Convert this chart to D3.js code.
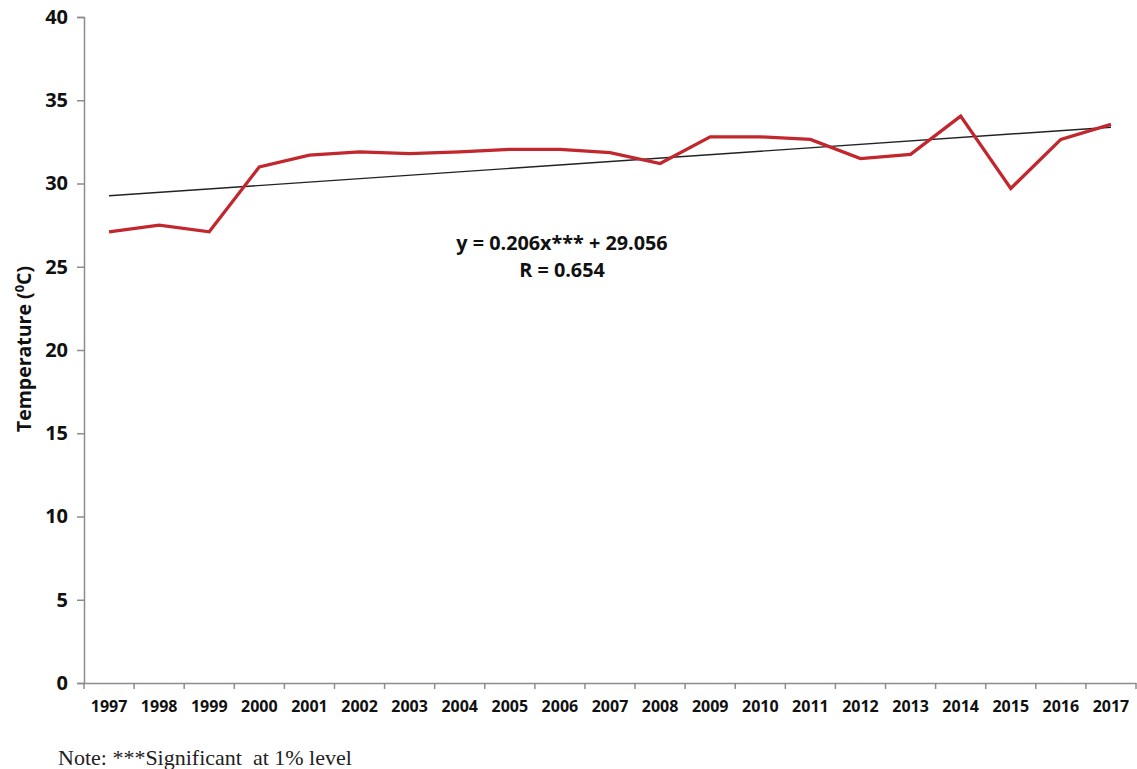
<!DOCTYPE html>
<html><head><meta charset="utf-8">
<script src="https://cdn.jsdelivr.net/npm/d3@7"></script>
<style>body{margin:0;background:#fff}</style>
</head><body>
<svg id="c" width="1137" height="769"></svg>
<script>
const years = ["1997","1998","1999","2000","2001","2002","2003","2004","2005","2006","2007","2008","2009","2010","2011","2012","2013","2014","2015","2016","2017"];
const temperature = [27.1,27.5,27.1,31.0,31.7,31.9,31.8,31.9,32.05,32.05,31.85,31.2,32.8,32.8,32.65,31.5,31.75,34.05,29.7,32.65,33.55];
const trendSlope = 0.206;
const trendIntercept = 29.056;
const yTicks = [0,5,10,15,20,25,30,35,40];
const equationText = "y = 0.206x*** + 29.056";
const rText = "R = 0.654";
const noteText = "Note: ***Significant  at 1% level";

(function(){
const svg = d3.select("#c");
const mLeft = 84, mRight = 1136, mTop = 17, mBottom = 683;
const x = d3.scaleBand().domain(years).range([mLeft, mRight]);
const y = d3.scaleLinear().domain([0, 40]).range([mBottom, mTop]);
const cx = d => x(d) + x.bandwidth() / 2;
const sans = "'Open Sans', sans-serif";

// y axis
const ya = svg.append("g").attr("transform", `translate(${mLeft},0)`)
  .call(d3.axisLeft(y).tickValues(yTicks).tickSize(7).tickPadding(9));
ya.select(".domain").attr("stroke", "#8c8c8c").attr("stroke-width", 1.5);
ya.selectAll(".tick line").attr("stroke", "#8c8c8c").attr("stroke-width", 1.5);
ya.selectAll(".tick text").attr("font-family", sans).attr("font-weight", "bold")
  .attr("font-size", 20).attr("fill", "#111");

// x axis with ticks at band boundaries
const xa = svg.append("g").attr("transform", `translate(0,${mBottom})`)
  .call(d3.axisBottom(x).tickSize(0).tickPadding(18));
xa.select(".domain").attr("stroke", "#8c8c8c").attr("stroke-width", 1.5);
xa.selectAll(".tick text").attr("font-family", sans).attr("font-weight", "bold")
  .attr("font-size", 16).attr("fill", "#111");
const boundaries = years.map(d => x(d)).concat([x(years[years.length-1]) + x.bandwidth()]);
svg.append("g").selectAll("line").data(boundaries).join("line")
  .attr("x1", d => d).attr("x2", d => d).attr("y1", mBottom).attr("y2", mBottom + 6)
  .attr("stroke", "#8c8c8c").attr("stroke-width", 1.5);

// trend line
const trend = years.map((d, i) => [cx(d), y(trendSlope * (i + 1) + trendIntercept)]);
svg.append("path").attr("d", d3.line()([trend[0], trend[trend.length - 1]]))
  .attr("stroke", "#222").attr("stroke-width", 1.4).attr("fill", "none");

// data line
svg.append("path")
  .datum(temperature)
  .attr("d", d3.line().x((d, i) => cx(years[i])).y(d => y(d)))
  .attr("stroke", "#c1272d").attr("stroke-width", 3.3).attr("fill", "none").attr("stroke-linejoin", "miter");

// equation
svg.append("text").attr("x", 562).attr("y", 250).attr("text-anchor", "middle")
  .attr("font-family", sans).attr("font-weight", "bold").attr("font-size", 19.8)
  .attr("fill", "#111").text(equationText);
svg.append("text").attr("x", 562).attr("y", 277).attr("text-anchor", "middle")
  .attr("font-family", sans).attr("font-weight", "bold").attr("font-size", 19.8)
  .attr("fill", "#111").text(rText);

// y label
const yl = svg.append("text").attr("transform", "translate(31,349) rotate(-90)").attr("text-anchor", "middle")
  .attr("font-family", sans).attr("font-weight", "bold").attr("font-size", 19.5).attr("fill", "#111");
yl.append("tspan").text("Temperature (");
yl.append("tspan").attr("dy", -7).attr("font-size", 13).text("0");
yl.append("tspan").attr("dy", 7).text("C)");

// note
svg.append("text").attr("x", 58).attr("y", 765)
  .attr("font-family", "'Liberation Serif', 'Times New Roman', serif").attr("font-size", 22)
  .attr("fill", "#222").style("white-space", "pre").text(noteText);
})();
</script>
</body></html>
